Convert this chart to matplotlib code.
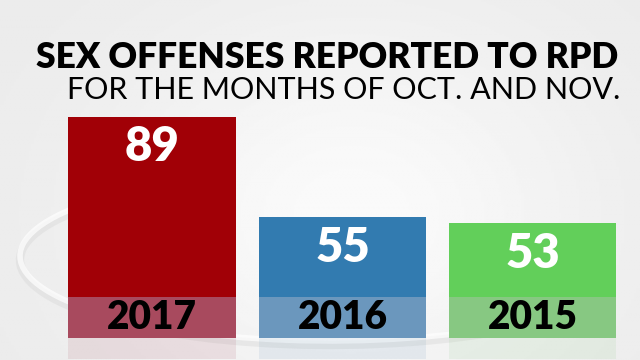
import numpy as np
import matplotlib.pyplot as plt
from matplotlib.patches import Arc

# data
years = ['2017', '2016', '2015']
counts = [89, 55, 53]
bar_colors = ['#a10006', '#327bb0', '#62cf5a']
band_colors = ['#a84a5e', '#6b97bd', '#87c882']

title = 'SEX OFFENSES REPORTED TO RPD'
subtitle = 'FOR THE MONTHS OF OCT. AND NOV.'

fig = plt.figure(figsize=(6.4, 3.6), dpi=100)

# background with a soft gradient and swoosh
bg = fig.add_axes([0, 0, 1, 1])
grad = np.linspace(0, 1, 256)
xx, yy = np.meshgrid(grad, grad)
shade = 0.92 + 0.06 * np.exp(-((xx - 0.55) ** 2 / 0.15 + (yy - 0.6) ** 2 / 0.3))
bg.imshow(shade, cmap='gray', vmin=0, vmax=1, extent=[0, 640, 360, 0], aspect='auto')
bg.add_patch(Arc((330, 260), 620, 170, theta1=20, theta2=200, color='#d6d6d6', lw=6, alpha=0.4))
bg.add_patch(Arc((330, 256), 620, 170, theta1=20, theta2=200, color='white', lw=4, alpha=0.7))
bg.set_xlim(0, 640)
bg.set_ylim(360, 0)
bg.axis('off')

# bars
ax = fig.add_axes([0, 22 / 360, 1, 238 / 360])
ax.patch.set_alpha(0)
x = np.arange(len(years))
ylo = 14.2
ax.set_xlim(-0.798, 2.562)
ax.set_ylim(ylo, ylo + 238 / 2.955)
ax.bar(x, counts, width=0.877, color=bar_colors)
ax.bar(x, 14, bottom=ylo, width=0.877, color=band_colors)
ax.bar(x, -7, bottom=ylo, width=0.877, color=band_colors, alpha=0.12, clip_on=False)
for xi, c, y in zip(x, counts, years):
    ax.text(xi, c - 2.8, str(c), ha='center', va='top', color='white',
            fontsize=34, fontweight='heavy', family='Lato')
    ax.text(xi, ylo + 6.8, y, ha='center', va='center', color='black',
            fontsize=28, fontweight='heavy', family='Lato')
ax.axis('off')

fig.text(36 / 640, 1 - 57 / 360, title, ha='left', va='center', fontsize=25.5,
         fontweight='heavy', family='Lato', color='black')
fig.text(67 / 640, 1 - 90 / 360, subtitle, ha='left', va='center', fontsize=22,
         family='Lato', color='black')

fig.savefig('out.png', dpi=100)
